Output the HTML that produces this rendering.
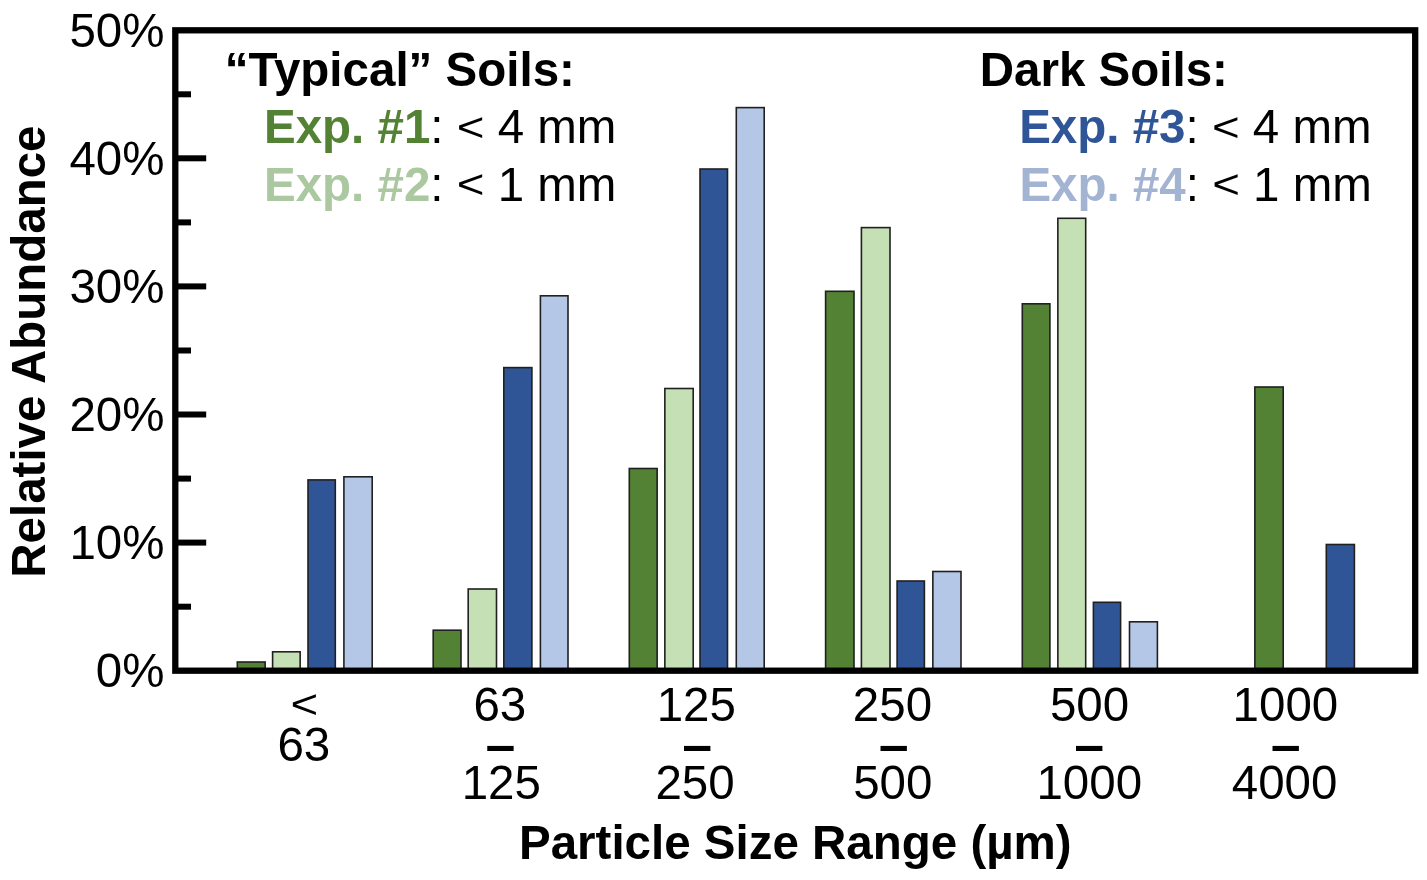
<!DOCTYPE html>
<html lang="en"><head><meta charset="utf-8"><title>Particle size distribution</title>
<style>html,body{margin:0;padding:0;background:#fff}body{width:1427px;height:880px;overflow:hidden}svg{display:block}text{font-family:"Liberation Sans",sans-serif;font-size:47.5px;fill:#000}.b{font-weight:bold}</style></head><body>
<svg width="1427" height="880" viewBox="0 0 1427 880">
<rect width="1427" height="880" fill="#fff"/>
<g stroke="#202020" stroke-width="1.6">
<rect x="237.30" y="662.00" width="27.85" height="9.00" fill="#548235"/>
<rect x="272.60" y="651.80" width="27.55" height="19.20" fill="#C5E0B4"/>
<rect x="308.00" y="479.90" width="27.30" height="191.10" fill="#2F5597"/>
<rect x="343.90" y="476.80" width="28.30" height="194.20" fill="#B4C7E7"/>
<rect x="433.20" y="630.20" width="27.80" height="40.80" fill="#548235"/>
<rect x="468.20" y="589.00" width="28.30" height="82.00" fill="#C5E0B4"/>
<rect x="503.80" y="367.60" width="28.10" height="303.40" fill="#2F5597"/>
<rect x="540.40" y="295.80" width="27.60" height="375.20" fill="#B4C7E7"/>
<rect x="629.30" y="468.50" width="27.85" height="202.50" fill="#548235"/>
<rect x="664.85" y="388.50" width="28.35" height="282.50" fill="#C5E0B4"/>
<rect x="700.00" y="169.00" width="27.50" height="502.00" fill="#2F5597"/>
<rect x="736.30" y="107.60" width="27.90" height="563.40" fill="#B4C7E7"/>
<rect x="825.60" y="291.30" width="28.40" height="379.70" fill="#548235"/>
<rect x="861.40" y="227.60" width="28.60" height="443.40" fill="#C5E0B4"/>
<rect x="897.10" y="581.00" width="27.30" height="90.00" fill="#2F5597"/>
<rect x="932.85" y="571.50" width="28.15" height="99.50" fill="#B4C7E7"/>
<rect x="1022.30" y="303.80" width="27.60" height="367.20" fill="#548235"/>
<rect x="1057.85" y="218.30" width="27.85" height="452.70" fill="#C5E0B4"/>
<rect x="1093.40" y="602.30" width="27.20" height="68.70" fill="#2F5597"/>
<rect x="1129.50" y="621.80" width="27.90" height="49.20" fill="#B4C7E7"/>
<rect x="1254.85" y="387.00" width="28.35" height="284.00" fill="#548235"/>
<rect x="1326.30" y="544.50" width="28.10" height="126.50" fill="#2F5597"/>
</g>
<rect x="175.3" y="30.3" width="1239.9" height="640.4" fill="none" stroke="#000" stroke-width="6.3"/>
<g stroke="#000" stroke-width="6">
<line x1="177" y1="542.6" x2="206.2" y2="542.6"/>
<line x1="177" y1="414.5" x2="206.2" y2="414.5"/>
<line x1="177" y1="286.4" x2="206.2" y2="286.4"/>
<line x1="177" y1="158.3" x2="206.2" y2="158.3"/>
<line x1="177" y1="606.7" x2="191" y2="606.7"/>
<line x1="177" y1="478.6" x2="191" y2="478.6"/>
<line x1="177" y1="350.5" x2="191" y2="350.5"/>
<line x1="177" y1="222.4" x2="191" y2="222.4"/>
<line x1="177" y1="94.3" x2="191" y2="94.3"/>
</g>
<g text-anchor="end">
<text x="164.5" y="687.1">0%</text>
<text x="164.5" y="559.0">10%</text>
<text x="164.5" y="430.9">20%</text>
<text x="164.5" y="302.8">30%</text>
<text x="164.5" y="174.7">40%</text>
<text x="164.5" y="46.6">50%</text>
</g>
<text class="b" text-anchor="middle" transform="translate(45.3 351.6) rotate(-90)">Relative Abundance</text>
<text class="b" x="519" y="859.1">Particle Size Range (µm)</text>
<g text-anchor="middle">
<text transform="translate(304.3 718.15) scale(1 0.87)">&lt;</text>
<text x="303.8" y="760.6">63</text>
<text x="499.8" y="720.6">63</text>
<text transform="translate(500.4 768.48) scale(1 1.6)">–</text>
<text x="501.3" y="799.4">125</text>
<text x="696.3" y="720.6">125</text>
<text transform="translate(697.2 768.48) scale(1 1.6)">–</text>
<text x="695.1" y="799.4">250</text>
<text x="892.5" y="720.6">250</text>
<text transform="translate(893.6 768.48) scale(1 1.6)">–</text>
<text x="892.8" y="799.4">500</text>
<text x="1089.6" y="720.6">500</text>
<text transform="translate(1089.1 768.48) scale(1 1.6)">–</text>
<text x="1089.3" y="799.4">1000</text>
<text x="1285.4" y="720.6">1000</text>
<text transform="translate(1285.6 768.48) scale(1 1.6)">–</text>
<text x="1284.6" y="799.4">4000</text>
</g>
<text class="b" x="224.7" y="86.4">“Typical” Soils:</text>
<text x="264.0" y="143.3"><tspan class="b" fill="#548235">Exp. #1</tspan>:</text>
<text transform="translate(456.73 140.90) scale(1 0.87)">&lt;</text>
<text x="497.67" y="143.3">4 mm</text>
<text x="264.0" y="200.5"><tspan class="b" fill="#ACC8A0">Exp. #2</tspan>:</text>
<text transform="translate(456.73 198.10) scale(1 0.87)">&lt;</text>
<text x="497.67" y="200.5">1 mm</text>
<text class="b" x="979.8" y="86.4">Dark Soils:</text>
<text x="1019.2" y="143.3"><tspan class="b" fill="#2F5597">Exp. #3</tspan>:</text>
<text transform="translate(1211.93 140.90) scale(1 0.87)">&lt;</text>
<text x="1252.87" y="143.3">4 mm</text>
<text x="1019.4" y="200.5"><tspan class="b" fill="#A3B3D2">Exp. #4</tspan>:</text>
<text transform="translate(1212.13 198.10) scale(1 0.87)">&lt;</text>
<text x="1253.07" y="200.5">1 mm</text>
</svg></body></html>
